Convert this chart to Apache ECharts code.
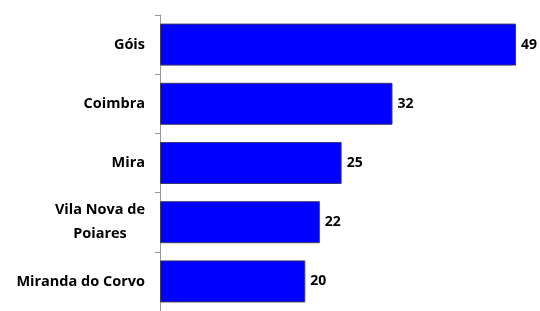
<!DOCTYPE html>
<html>
<head>
<meta charset="utf-8">
<script src="https://cdn.jsdelivr.net/npm/echarts@6/dist/echarts.min.js"></script>
<style>
  html, body { margin: 0; padding: 0; background: #fff; }
  #chart { width: 540px; height: 311px; }
</style>
</head>
<body>
<div id="chart"></div>
<script>
// data, top to bottom
var categories = ['Góis', 'Coimbra', 'Mira', 'Vila Nova de\nPoiares', 'Miranda do Corvo'];
var values = [49, 32, 25, 22, 20];

var chart = echarts.init(document.getElementById('chart'), null, { renderer: 'canvas' });

var labelFont = 'Open Sans';
var labelSize = 14.5;

chart.setOption({
  backgroundColor: '#ffffff',
  animation: false,
  grid: {
    left: 160,
    top: 15,
    width: 356,
    height: 298
  },
  xAxis: {
    type: 'value',
    min: 0,
    max: 49,
    show: false
  },
  yAxis: {
    type: 'category',
    inverse: true,
    data: categories,
    axisLine: { show: true, lineStyle: { color: '#9a9a9a', width: 1 } },
    axisTick: { show: true, length: 5, lineStyle: { color: '#9a9a9a' } },
    axisLabel: {
      margin: 15,
      color: '#000',
      fontFamily: labelFont,
      fontWeight: 'bold',
      fontSize: labelSize,
      lineHeight: 24,
      formatter: function (v) {
        // centre the lines of a two-line name, like the original
        return v.split('\n').map(function (s) { return '{c|' + s + '}'; }).join('\n');
      },
      rich: {
        c: {
          align: 'center',
          color: '#000',
          fontFamily: labelFont,
          fontWeight: 'bold',
          fontSize: labelSize,
          lineHeight: 24
        }
      }
    },
    splitLine: { show: false }
  },
  series: [{
    type: 'bar',
    data: values,
    barWidth: 42,
    itemStyle: {
      color: '#0000ff',
      borderColor: '#3a3a6a',
      borderWidth: 1
    },
    label: {
      show: true,
      position: 'right',
      distance: 5,
      color: '#000',
      fontFamily: labelFont,
      fontWeight: 'bold',
      fontSize: 14
    }
  }]
});
</script>
</body>
</html>
